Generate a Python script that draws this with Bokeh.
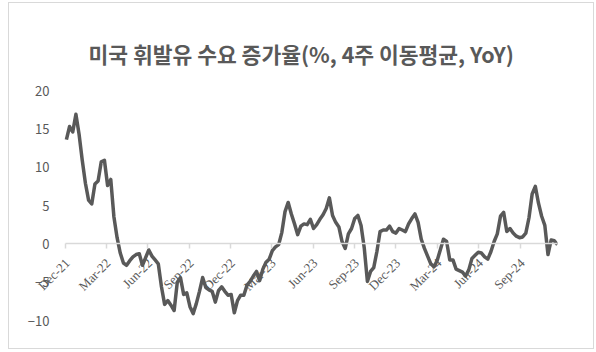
import math
import pandas as pd
from bokeh.plotting import figure
from bokeh.models import (DatetimeAxis, LinearAxis, FixedTicker, Range1d,
                          LabelSet, ColumnDataSource)
from bokeh.embed import file_html
from bokeh.resources import INLINE

# ---- data ----
title_text = "미국 휘발유 수요 증가율(%, 4주 이동평균, YoY)"
first_week = "2021-12-03"
growth = [
    13.6, 15.3, 14.6, 16.9, 14.3, 10.9, 7.9, 5.7, 5.2, 7.8,
    8.2, 10.7, 10.9, 7.6, 8.4, 3.5, 0.8, -1.2, -2.5, -2.8,
    -2.2, -1.7, -1.4, -1.3, -2.8, -1.8, -0.8, -1.6, -2.1, -2.6,
    -5.6, -7.9, -7.4, -8.0, -8.7, -5.0, -4.4, -6.6, -6.4, -8.2,
    -9.1, -7.8, -6.2, -4.4, -5.7, -6.0, -6.2, -7.6, -6.1, -5.6,
    -6.2, -6.7, -6.6, -9.0, -7.4, -6.7, -6.7, -5.4, -4.9, -4.2,
    -3.6, -4.8, -3.3, -2.4, -2.0, -0.9, -0.4, -0.1, 1.5, 4.2,
    5.4, 3.9, 2.6, 1.2, 2.3, 2.6, 2.5, 3.2, 2.0, 2.5,
    3.2, 3.8, 4.6, 6.0, 3.7, 2.8, 2.2, 0.3, -0.6, 1.3,
    2.0, 3.3, 3.7, 2.4, -0.5, -4.9, -3.6, -3.1, -1.0, 1.6,
    1.8, 1.8, 2.3, 1.6, 1.4, 2.0, 1.8, 1.6, 2.6, 3.3,
    3.9, 2.8, 0.6, -0.6, -1.6, -2.6, -3.0, -2.2, -0.8, 0.6,
    0.3, -2.1, -2.1, -3.3, -3.5, -3.7, -4.2, -3.4, -1.9, -1.5,
    -1.1, -1.2, -1.7, -2.0, -1.0, 0.3, 1.3, 3.6, 4.1, 1.6,
    2.0, 1.4, 1.0, 0.8, 0.9, 1.4, 3.4, 6.5, 7.5, 5.3,
    3.6, 2.4, -1.4, 0.5, 0.4, -0.1,
]
tick_dates = ["2021-12-01", "2022-03-01", "2022-06-01", "2022-09-01",
              "2022-12-01", "2023-03-01", "2023-06-01", "2023-09-01",
              "2023-12-01", "2024-03-01", "2024-06-01", "2024-09-01"]
tick_labels = ["Dec-21", "Mar-22", "Jun-22", "Sep-22", "Dec-22", "Mar-23",
               "Jun-23", "Sep-23", "Dec-23", "Mar-24", "Jun-24", "Sep-24"]
y_ticks = [-10, -5, 0, 5, 10, 15, 20]

dates = pd.date_range(first_week, periods=len(growth), freq="7D")
tick_ts = pd.to_datetime(tick_dates)

GRAY = "#595959"
LIGHT = "#d9d9d9"
FONT = "Noto Sans CJK KR"

# plot area: data part is 492 x 230 px; extra room around it so that
# the axis labels are not cut at the frame edge
DATA_W, PAD_W = 492, 45
DATA_H, Y_MIN, Y_MAX, Y_PAD = 230, -10, 20, 1.5
span_days = (dates[-1] - tick_ts[0]).days
pad = pd.Timedelta(days=PAD_W * span_days / DATA_W)
px_per_unit = DATA_H / (Y_MAX - Y_MIN)
pad_px = int(round(Y_PAD * px_per_unit))

p = figure(
    frame_width=DATA_W + PAD_W, frame_height=DATA_H + 2 * pad_px,
    output_backend="svg", toolbar_location=None,
    x_axis_type=None, y_axis_type=None,
    x_range=Range1d(tick_ts[0] - pad, dates[-1]),
    y_range=Range1d(Y_MIN - pad_px / px_per_unit, Y_MAX + pad_px / px_per_unit),
    min_border_left=11, min_border_right=36,
    min_border_top=87 - pad_px, min_border_bottom=28 - pad_px,
)
p.styles = {"margin-left": "8px", "margin-top": "2px",
            "border": "1px solid " + LIGHT}
p.outline_line_color = None
p.xgrid.visible = False
p.ygrid.visible = False

p.title.text = title_text
p.title.align = "left"
p.title.offset = 68
p.title.vertical_align = "top"
p.title.standoff = 16
p.title.text_font = FONT
p.title.text_font_size = "21.5px"
p.title.text_font_style = "bold"
p.title.text_color = GRAY

tick_ms = [int(t.value // 10**6) for t in tick_ts]
end_ms = int(dates[-1].value // 10**6)

# y axis placed at the first tick date
ya = LinearAxis(fixed_location=tick_ms[0])
ya.ticker = FixedTicker(ticks=y_ticks)
ya.axis_line_color = None
ya.major_tick_line_color = None
ya.minor_tick_line_color = None
ya.major_label_text_font = FONT
ya.major_label_text_font_size = "13px"
ya.major_label_text_color = GRAY
ya.major_label_standoff = 10
p.add_layout(ya, "left")

# x axis crossing at zero (labels drawn separately)
xa = DatetimeAxis(fixed_location=0)
xa.ticker = FixedTicker(ticks=tick_ms)
xa.bounds = (tick_ms[0], end_ms)
xa.major_label_overrides = {t: "" for t in tick_ms}
xa.major_label_text_font_size = "0px"
xa.axis_line_color = LIGHT
xa.axis_line_width = 1.5
xa.major_tick_line_color = LIGHT
xa.major_tick_line_width = 1.5
xa.major_tick_in = 0
xa.major_tick_out = 5
xa.minor_tick_line_color = None
p.add_layout(xa, "below")

p.line(dates, growth, line_color=GRAY, line_width=3.5, line_join="round")

lab_src = ColumnDataSource(dict(x=tick_ts, y=[0] * len(tick_labels),
                                text=tick_labels))
labels = LabelSet(x="x", y="y", text="text", source=lab_src,
                  angle=math.pi / 4, text_align="right",
                  text_baseline="middle", x_offset=2, y_offset=-17,
                  text_font=FONT, text_font_size="13px", text_color=GRAY)
p.add_layout(labels)

open("out.html", "w").write(file_html(p, INLINE))
